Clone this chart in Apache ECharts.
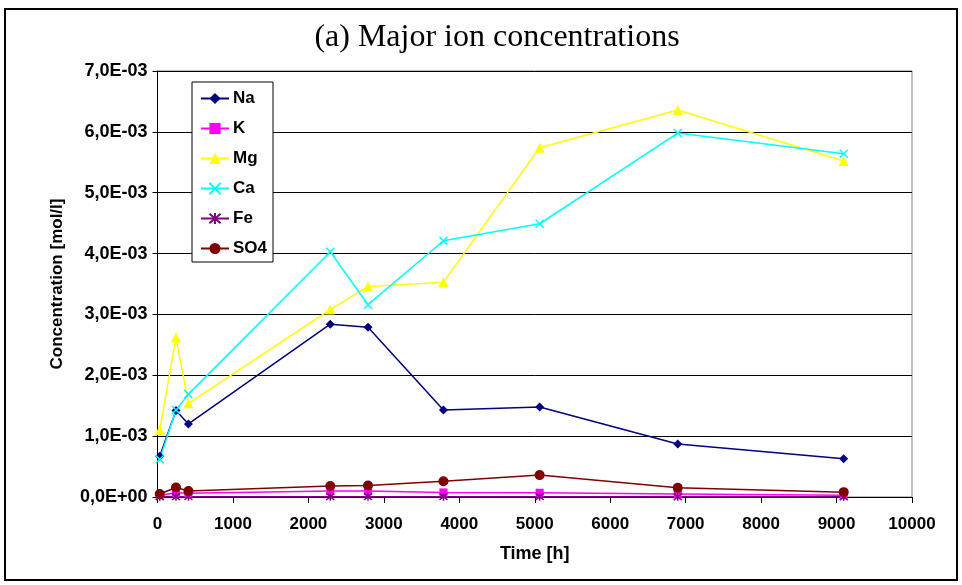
<!DOCTYPE html>
<html>
<head>
<meta charset="utf-8">
<script src="https://cdn.jsdelivr.net/npm/echarts@6/dist/echarts.min.js"></script>
<style>
  html, body { margin: 0; padding: 0; background: #fff; }
  #chart { width: 962px; height: 585px; }
</style>
</head>
<body>
<div id="chart"></div>
<script>
// ---- data (time in h, concentrations in mol/l) ----
const time = [30, 245, 410, 2290, 2790, 3790, 5065, 6895, 9095];
const Na  = [0.67e-3, 1.42e-3, 1.20e-3, 2.84e-3, 2.79e-3, 1.43e-3, 1.48e-3, 0.87e-3, 0.63e-3];
const K   = [0.03e-3, 0.07e-3, 0.06e-3, 0.10e-3, 0.10e-3, 0.075e-3, 0.07e-3, 0.05e-3, 0.03e-3];
const Mg  = [1.10e-3, 2.62e-3, 1.54e-3, 3.08e-3, 3.46e-3, 3.53e-3, 5.74e-3, 6.36e-3, 5.52e-3];
const Ca  = [0.62e-3, 1.43e-3, 1.69e-3, 4.03e-3, 3.16e-3, 4.21e-3, 4.49e-3, 5.98e-3, 5.64e-3];
const Fe  = [0.004e-3, 0.006e-3, 0.005e-3, 0.006e-3, 0.006e-3, 0.005e-3, 0.005e-3, 0.004e-3, 0.004e-3];
const SO4 = [0.05e-3, 0.155e-3, 0.10e-3, 0.18e-3, 0.19e-3, 0.26e-3, 0.36e-3, 0.15e-3, 0.08e-3];
const xTicks = { min: 0, max: 10000, interval: 1000 };
const yTicks = { min: 0, max: 0.007, interval: 0.001 };

function pairs(vals) { return time.map((t, i) => [t, vals[i]]); }
function sci(v) {
  if (Math.abs(v) < 1e-15) return '0,0E+00';
  const e = Math.floor(Math.log10(Math.abs(v)) + 1e-9);
  const m = v / Math.pow(10, e);
  return m.toFixed(1).replace('.', ',') + 'E' + (e < 0 ? '-' : '+') + String(Math.abs(e)).padStart(2, '0');
}

const X_PATH = 'path://M0,0L10,10M10,0L0,10';
const STAR_PATH = 'path://M0,0L10,10M10,0L0,10M5,-1L5,11';

function mk(name, vals, color, symbol, size, stroked) {
  const s = {
    name: name, type: 'line', data: pairs(vals),
    symbol: symbol, symbolSize: size, showSymbol: true,
    lineStyle: { color: color, width: 1.5 },
    itemStyle: { color: color },
    emphasis: { disabled: true },
    animation: false, z: 3
  };
  if (stroked) {
    s.itemStyle = { color: color, borderColor: color, borderWidth: 1.5 };
  }
  return s;
}

const chart = echarts.init(document.getElementById('chart'), null, { renderer: 'canvas' });
const font = 'Liberation Sans, Arial, sans-serif';
chart.setOption({
  backgroundColor: '#ffffff',
  animation: false,
  title: {
    text: '(a) Major ion concentrations',
    left: 492, top: 17, textAlign: 'center',
    textStyle: { fontFamily: 'Liberation Serif, Times New Roman, serif', fontWeight: 'normal', fontSize: 32, color: '#000' }
  },
  graphic: [{
    type: 'rect', shape: { x: 5, y: 9, width: 952, height: 571 },
    style: { fill: 'none', stroke: '#000', lineWidth: 2 }, z: -1, silent: true
  }],
  grid: {
    left: 157.5, right: 50, top: 71, bottom: 88,
    show: true, borderColor: '#808080', borderWidth: 1, backgroundColor: 'transparent'
  },
  legend: {
    orient: 'vertical', left: 192, top: 82,
    padding: [8, 6, 5, 8], itemGap: 13, itemWidth: 28, itemHeight: 14,
    backgroundColor: '#fff', borderColor: '#000', borderWidth: 1,
    textStyle: { fontFamily: font, fontWeight: 'bold', fontSize: 17, color: '#000', padding: [0, 0, 0, -1] },
    data: ['Na', 'K', 'Mg', 'Ca', 'Fe', 'SO4']
  },
  xAxis: {
    type: 'value', min: xTicks.min, max: xTicks.max, interval: xTicks.interval,
    name: 'Time [h]', nameLocation: 'middle', nameGap: 48,
    nameTextStyle: { fontFamily: font, fontWeight: 'bold', fontSize: 18, color: '#000' },
    axisLine: { show: true, onZero: false, lineStyle: { color: '#000', width: 1 } },
    axisTick: { show: true, inside: false, length: 6, lineStyle: { color: '#000' } },
    axisLabel: { fontFamily: font, fontWeight: 'bold', fontSize: 17, color: '#000', margin: 19,
      formatter: function (v) { return String(v); } },
    splitLine: { show: false }
  },
  yAxis: {
    type: 'value', min: yTicks.min, max: yTicks.max, interval: yTicks.interval,
    name: 'Concentration [mol/l]', nameLocation: 'middle', nameGap: 92, nameRotate: 90,
    nameTextStyle: { fontFamily: font, fontWeight: 'bold', fontSize: 17, color: '#000' },
    axisLine: { show: true, lineStyle: { color: '#000', width: 1 } },
    axisTick: { show: true, inside: false, length: 5, lineStyle: { color: '#000' } },
    axisLabel: { fontFamily: font, fontWeight: 'bold', fontSize: 18, color: '#000', margin: 10, formatter: sci },
    splitLine: { show: true, lineStyle: { color: '#000', width: 1 } }
  },
  series: [
    mk('Na', Na, '#000080', 'diamond', 9, false),
    mk('K', K, '#FF00FF', 'rect', 8, false),
    mk('Mg', Mg, '#FFFF00', 'triangle', 10, false),
    mk('Ca', Ca, '#00FFFF', X_PATH, 8, true),
    mk('Fe', Fe, '#800080', STAR_PATH, 8, true),
    mk('SO4', SO4, '#800000', 'circle', 10, false)
  ]
});
</script>
</body>
</html>
